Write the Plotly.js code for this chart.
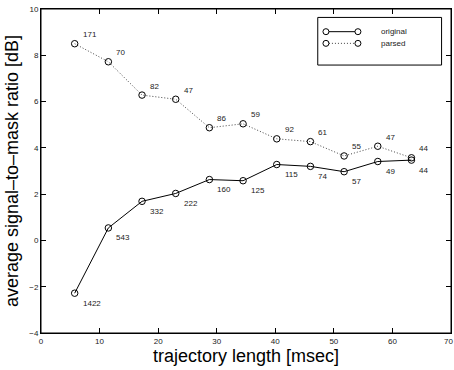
<!DOCTYPE html>
<html>
<head>
<meta charset="utf-8">
<script src="https://cdn.plot.ly/plotly-3.0.1.min.js"></script>
<style>html,body{margin:0;padding:0;background:#fff;overflow:hidden;}#chart{width:454px;height:370px;}</style>
</head>
<body>
<div id="chart"></div>
<script>
const trajLength = [5.75, 11.5, 17.25, 23, 28.75, 34.5, 40.25, 46, 51.75, 57.5, 63.25];
const originalSMR = [-2.28, 0.54, 1.69, 2.03, 2.63, 2.58, 3.28, 3.2, 2.97, 3.41, 3.47];
const parsedSMR = [8.5, 7.72, 6.28, 6.1, 4.87, 5.04, 4.39, 4.27, 3.65, 4.07, 3.57];
const originalCounts = ['1422', '543', '332', '222', '160', '125', '115', '74', '57', '49', '44'];
const parsedCounts = ['171', '70', '82', '47', '86', '59', '92', '61', '55', '47', '44'];
const seriesNames = ['original', 'parsed'];

const FONT = 'Liberation Sans, Arial, Helvetica, sans-serif';
const markerStyle = {symbol: 'circle-open', size: 6.5, color: '#000', line: {width: 1, color: '#000'}};
const DOTS = '1px,2px';

const traces = [
  {x: trajLength, y: originalSMR, name: seriesNames[0], mode: 'lines+markers',
   line: {color: '#000', width: 1, dash: 'solid'}, marker: markerStyle, showlegend: false},
  {x: trajLength, y: parsedSMR, name: seriesNames[1], mode: 'lines+markers',
   line: {color: '#444', width: 1, dash: DOTS}, marker: markerStyle, showlegend: false}
];

const annotations = [];
trajLength.forEach((x, i) => {
  annotations.push({x: x, y: originalSMR[i], xref: 'x', yref: 'y', text: originalCounts[i],
    showarrow: false, xanchor: 'left', yanchor: 'middle', xshift: 6, yshift: -10,
    font: {family: FONT, size: 8, color: '#222'}});
  annotations.push({x: x, y: parsedSMR[i], xref: 'x', yref: 'y', text: parsedCounts[i],
    showarrow: false, xanchor: 'left', yanchor: 'middle', xshift: 6, yshift: 9,
    font: {family: FONT, size: 8, color: '#222'}});
});
// last x tick label, nudged so it stays inside the page
annotations.push({x: 70, xref: 'x', y: 0, yref: 'paper', text: '70', showarrow: false,
  xanchor: 'center', yanchor: 'top', yshift: -2, xshift: -2.5, font: {family: FONT, size: 8, color: '#222'}});

// Manual legend (MATLAB-style: marker at both ends of the line sample)
const lgX0 = 0.675, lgX1 = 0.977, lgY0 = 0.827, lgY1 = 0.974;
const rowY = [0.930, 0.894];
const sampX0 = 0.695, sampX1 = 0.773;
const shapes = [
  {type: 'rect', xref: 'paper', yref: 'paper', x0: 0, x1: 1, y0: 0, y1: 1,
   line: {color: '#000', width: 1}, fillcolor: 'rgba(0,0,0,0)', layer: 'above'},
  {type: 'rect', xref: 'paper', yref: 'paper', x0: lgX0, x1: lgX1, y0: lgY0, y1: lgY1,
   line: {color: '#000', width: 1}, fillcolor: '#fff', layer: 'above'}
];
const legendDash = ['solid', DOTS];
const legendColor = ['#000', '#444'];
rowY.forEach((yy, i) => {
  shapes.push({type: 'line', xref: 'paper', yref: 'paper', x0: sampX0, x1: sampX1, y0: yy, y1: yy,
    line: {color: legendColor[i], width: 1, dash: legendDash[i]}, layer: 'above'});
  [sampX0, sampX1].forEach(cx => {
    shapes.push({type: 'circle', xref: 'paper', yref: 'paper', xsizemode: 'pixel', ysizemode: 'pixel',
      xanchor: cx, yanchor: yy, x0: -3, x1: 3, y0: -3, y1: 3,
      line: {color: '#000', width: 1}, fillcolor: '#fff', layer: 'above'});
  });
  annotations.push({xref: 'paper', yref: 'paper', x: 0.824, y: yy, text: seriesNames[i],
    showarrow: false, xanchor: 'left', yanchor: 'middle',
    font: {family: FONT, size: 8, color: '#222'}});
});

const layout = {
  width: 454, height: 370,
  margin: {l: 41, r: 3, t: 9, b: 37, pad: 0, autoexpand: false},
  paper_bgcolor: '#fff', plot_bgcolor: '#fff',
  font: {family: FONT, size: 8, color: '#222'},
  showlegend: false,
  xaxis: {
    range: [0, 70], tickvals: [0, 10, 20, 30, 40, 50, 60, 70], ticktext: ['0', '10', '20', '30', '40', '50', '60', ''],
    showgrid: false, zeroline: false, automargin: false,
    showline: true, linecolor: '#000', linewidth: 1, mirror: 'ticks',
    ticks: 'inside', ticklen: 5, tickcolor: '#000', tickwidth: 1,
    tickfont: {family: FONT, size: 8, color: '#222'},
    title: {text: 'trajectory length [msec]', font: {family: FONT, size: 18, color: '#000'}, standoff: 3}
  },
  yaxis: {
    range: [-4, 10], dtick: 2, tick0: 0, showgrid: false, zeroline: false, automargin: false,
    showline: true, linecolor: '#000', linewidth: 1, mirror: 'ticks',
    ticks: 'inside', ticklen: 5, tickcolor: '#000', tickwidth: 1,
    tickfont: {family: FONT, size: 8, color: '#222'},
    title: {text: 'average signal\u2013to\u2013mask ratio [dB]', font: {family: FONT, size: 18, color: '#000'}, standoff: 5}
  },
  annotations: annotations,
  shapes: shapes
};

Plotly.newPlot('chart', traces, layout, {displayModeBar: false, staticPlot: true});
</script>
</body>
</html>
